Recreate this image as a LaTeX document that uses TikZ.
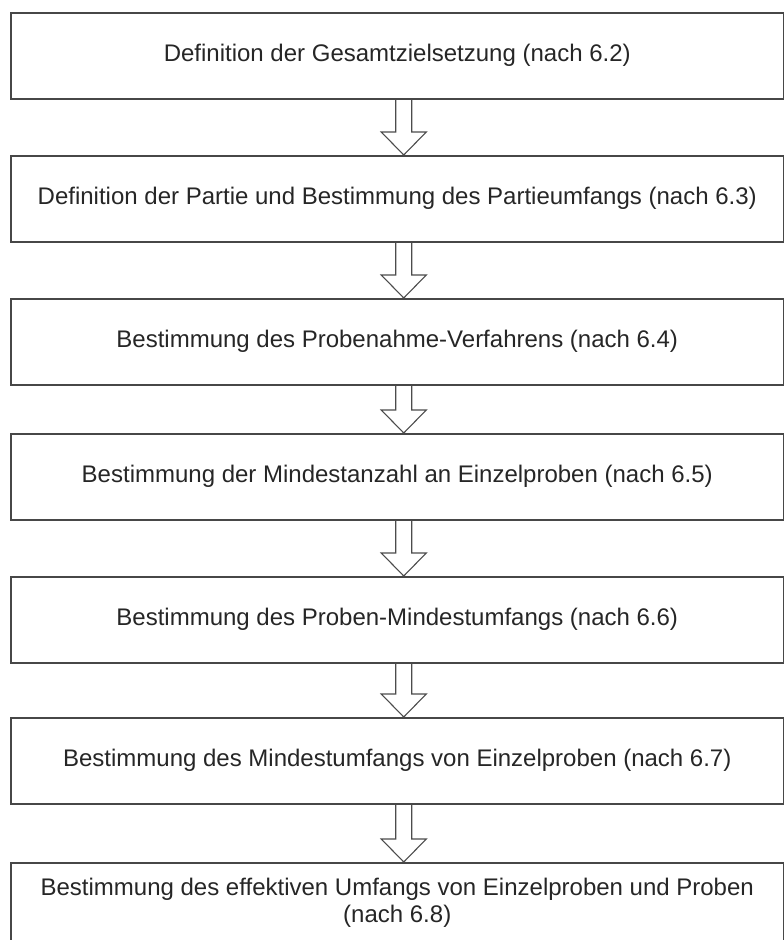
\documentclass[tikz,border=0pt]{standalone}
\usepackage{fontspec}
\setmainfont{Liberation Sans}
\begin{document}
\begin{tikzpicture}[x=1pt,y=-1pt,
  box/.style={draw=black!72, line width=1.5pt, minimum width=773pt, minimum height=86pt,
    inner sep=0pt, align=center, anchor=north west, text=black!85,
    font=\fontsize{24}{27}\selectfont},
  blockarrow/.style={draw=black!70, line width=1.1pt, line join=miter}]
\useasboundingbox (0,0) rectangle (784,940);
\node[box] (b1) at (10,12) {Definition der Gesamtzielsetzung (nach 6.2)};
\node[box] (b2) at (10,155) {Definition der Partie und Bestimmung des Partieumfangs (nach 6.3)};
\node[box] (b3) at (10,298) {Bestimmung des Probenahme-Verfahrens (nach 6.4)};
\node[box] (b4) at (10,433) {Bestimmung der Mindestanzahl an Einzelproben (nach 6.5)};
\node[box] (b5) at (10,576) {Bestimmung des Proben-Mindestumfangs (nach 6.6)};
\node[box] (b6) at (10,717) {Bestimmung des Mindestumfangs von Einzelproben (nach 6.7)};
\node[box, minimum height=80pt] (b7) at (10,862) {Bestimmung des effektiven Umfangs von Einzelproben und Proben\\(nach 6.8)};
\foreach \a/\b in {b1/b2,b2/b3,b3/b4,b4/b5,b5/b6,b6/b7}{
  \draw[blockarrow] ([xshift=-1.5pt]\a.south) -- ([xshift=-1.5pt,yshift=23pt]\b.north)
    -- ([xshift=-16pt,yshift=23pt]\b.north) -- ([xshift=6.5pt]\b.north)
    -- ([xshift=29pt,yshift=23pt]\b.north) -- ([xshift=14.5pt,yshift=23pt]\b.north)
    -- ([xshift=14.5pt]\a.south);
}
\end{tikzpicture}
\end{document}
